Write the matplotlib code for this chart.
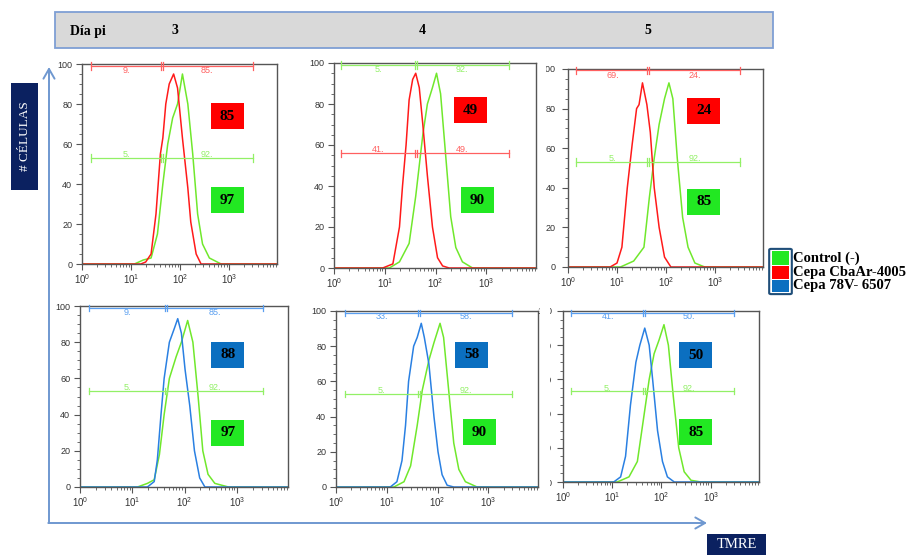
import matplotlib.pyplot as plt
from matplotlib.patches import Rectangle, FancyBboxPatch, FancyArrowPatch
from matplotlib.ticker import MultipleLocator, LogLocator, NullFormatter
import numpy as np

plt.rcParams['font.family'] = ['Liberation Sans', 'DejaVu Sans']
plt.rcParams['mathtext.default'] = 'regular'

# -----------------------------------------------
# data (x = log10 TMRE, y = # cells)
# -----------------------------------------------
days = ['3', '4', '5']

# top row: control (-) vs Cepa CbaAr-4005
cba_d3_ctrl_x = [0.0, 1.07, 1.25, 1.41, 1.54, 1.65, 1.75, 1.85, 1.95, 2.05, 2.16, 2.26, 2.36, 2.46, 2.60, 2.84, 4.0]
cba_d3_ctrl_y = [0, 0, 2, 3, 15, 40, 60, 73, 80, 95, 80, 55, 25, 10, 3, 0, 0]
cba_d3_x = [0.0, 1.20, 1.30, 1.41, 1.51, 1.60, 1.65, 1.71, 1.78, 1.87, 1.95, 2.05, 2.16, 2.22, 2.33, 2.43, 4.0]
cba_d3_y = [0, 0, 1, 5, 25, 55, 63, 80, 90, 95, 88, 63, 38, 21, 5, 0, 0]

cba_d4_ctrl_x = [0.0, 1.09, 1.29, 1.48, 1.61, 1.75, 1.84, 1.94, 2.02, 2.10, 2.20, 2.30, 2.40, 2.53, 2.73, 4.0]
cba_d4_ctrl_y = [0, 0, 3, 12, 35, 65, 80, 88, 95, 85, 55, 25, 10, 3, 0, 0]
cba_d4_x = [0.0, 0.96, 1.16, 1.29, 1.35, 1.42, 1.48, 1.55, 1.61, 1.68, 1.75, 1.84, 1.94, 2.04, 2.14, 2.27, 4.0]
cba_d4_y = [0, 0, 2, 20, 40, 60, 82, 92, 95, 88, 70, 45, 20, 5, 1, 0, 0]

cba_d5_ctrl_x = [0.0, 1.07, 1.34, 1.55, 1.66, 1.76, 1.86, 1.97, 2.06, 2.14, 2.23, 2.34, 2.45, 2.59, 2.79, 4.0]
cba_d5_ctrl_y = [0, 0, 3, 10, 35, 55, 72, 85, 93, 85, 55, 25, 10, 2, 0, 0]
cba_d5_x = [0.0, 0.86, 1.00, 1.10, 1.21, 1.31, 1.40, 1.45, 1.52, 1.61, 1.68, 1.76, 1.86, 1.97, 2.10, 4.0]
cba_d5_y = [0, 0, 2, 10, 40, 62, 80, 82, 93, 82, 68, 40, 20, 5, 0, 0]

# bottom row: control (-) vs Cepa 78V-6507
v78_d3_ctrl_x = [0.0, 1.10, 1.29, 1.42, 1.52, 1.61, 1.71, 1.84, 1.94, 2.06, 2.16, 2.26, 2.35, 2.45, 2.58, 2.84, 4.0]
v78_d3_ctrl_y = [0, 0, 2, 4, 18, 40, 60, 72, 80, 92, 80, 50, 20, 7, 2, 0, 0]
v78_d3_x = [0.0, 1.29, 1.42, 1.48, 1.55, 1.61, 1.71, 1.81, 1.87, 1.94, 2.01, 2.10, 2.19, 2.29, 2.39, 4.0]
v78_d3_y = [0, 0, 3, 15, 40, 60, 80, 88, 93, 85, 65, 45, 20, 5, 0, 0]

v78_d4_ctrl_x = [0.0, 1.14, 1.34, 1.47, 1.60, 1.70, 1.83, 1.93, 2.05, 2.12, 2.22, 2.32, 2.42, 2.55, 2.78, 4.0]
v78_d4_ctrl_y = [0, 0, 3, 12, 35, 55, 72, 82, 93, 85, 55, 25, 10, 3, 0, 0]
v78_d4_x = [0.0, 1.07, 1.20, 1.30, 1.37, 1.43, 1.53, 1.60, 1.68, 1.74, 1.83, 1.93, 2.01, 2.09, 2.19, 2.32, 4.0]
v78_d4_y = [0, 0, 3, 15, 35, 60, 80, 85, 93, 85, 70, 40, 20, 7, 1, 0, 0]

v78_d5_ctrl_x = [0.0, 1.10, 1.34, 1.51, 1.65, 1.75, 1.85, 1.95, 2.05, 2.14, 2.24, 2.35, 2.46, 2.60, 2.80, 4.0]
v78_d5_ctrl_y = [0, 0, 3, 12, 40, 60, 75, 83, 92, 80, 50, 20, 6, 1, 0, 0]
v78_d5_x = [0.0, 1.03, 1.17, 1.27, 1.37, 1.48, 1.56, 1.66, 1.75, 1.82, 1.92, 2.02, 2.12, 2.26, 4.0]
v78_d5_y = [0, 0, 3, 15, 45, 70, 80, 90, 80, 60, 30, 12, 3, 0, 0]

# gate percentages (left, right) and badge values
strain_gate_pct = [('9.', '85.'), ('41.', '49.'), ('69.', '24.'), ('9.', '85.'), ('33.', '58.'), ('41.', '50.')]
ctrl_gate_pct = ('5.', '92.')
strain_badge = [85, 49, 24, 88, 58, 50]
ctrl_badge = [97, 90, 85, 97, 90, 85]
legend_labels = ['Control (-)', 'Cepa CbaAr-4005', 'Cepa 78V- 6507']

# -----------------------------------------------
# styles / layout
# -----------------------------------------------
GREEN, RED, BLUE = '#70e82c', '#ff1a1a', '#2a80e2'
GATE = {'g': '#92f066', 'r': '#ff6060', 'b': '#5a9ff0'}
BADGE = {'g': '#22e822', 'r': '#ff0000', 'b': '#0b6fc0'}
NAVY = '#0b2160'
ARROW = '#6f98d0'

W, H = 909, 555
XMAX = 3.98

def fx(px):
    return px / W

def fy(py):
    return 1 - py / H

# (left, top, right, bottom) in px, strain color, curves, gate geometry, badge centres, label pad
panels = [
    dict(box=(82, 64, 277, 264), c='r', ctrl=(cba_d3_ctrl_x, cba_d3_ctrl_y), st=(cba_d3_x, cba_d3_y),
         gate=(0.18, 1.63, 3.48), sy=99, cy=53, sb=(2.96, 74), cb=(2.96, 32), pad=3),
    dict(box=(334, 63, 536, 268), c='r', ctrl=(cba_d4_ctrl_x, cba_d4_ctrl_y), st=(cba_d4_x, cba_d4_y),
         gate=(0.14, 1.61, 3.44), sy=56, cy=99, sb=(2.68, 77), cb=(2.82, 33), pad=3),
    dict(box=(568, 69, 763, 267), c='r', ctrl=(cba_d5_ctrl_x, cba_d5_ctrl_y), st=(cba_d5_x, cba_d5_y),
         gate=(0.17, 1.64, 3.52), sy=99.3, cy=53, sb=(2.77, 79), cb=(2.77, 33), pad=5),
    dict(box=(80, 306, 288, 487), c='b', ctrl=(v78_d3_ctrl_x, v78_d3_ctrl_y), st=(v78_d3_x, v78_d3_y),
         gate=(0.17, 1.65, 3.50), sy=99, cy=53, sb=(2.83, 73), cb=(2.83, 30), pad=3),
    dict(box=(336, 311, 538, 487), c='b', ctrl=(v78_d4_ctrl_x, v78_d4_ctrl_y), st=(v78_d4_x, v78_d4_y),
         gate=(0.17, 1.63, 3.47), sy=99, cy=53, sb=(2.67, 75), cb=(2.82, 31), pad=3),
    dict(box=(563, 311, 759, 482), c='b', ctrl=(v78_d5_ctrl_x, v78_d5_ctrl_y), st=(v78_d5_x, v78_d5_y),
         gate=(0.16, 1.65, 3.48), sy=99, cy=53, sb=(2.70, 74), cb=(2.70, 29), pad=4),
]

fig = plt.figure(figsize=(9.09, 5.55), dpi=100)


def draw_gate(ax, g, y, col, labels, below):
    x0, xd, x1 = g
    xs = np.power(10.0, [x0, x1])
    ax.plot(xs, [y, y], color=col, lw=0.9, clip_on=False, zorder=3)
    for xv in [x0, xd - 0.02, xd + 0.02, x1]:
        ax.plot([10 ** xv, 10 ** xv], [y - 1.8, y + 1.8], color=col, lw=0.9, clip_on=False, zorder=3)
    ty = y - 2.4 if below else y + 1.8
    ax.text(10 ** ((x0 + xd) / 2), ty, labels[0], color=col, fontsize=6.5, ha='center', va='center')
    ax.text(10 ** ((xd + x1) / 2), ty, labels[1], color=col, fontsize=6.5, ha='center', va='center')


def draw_badge(ax, centre, value, col, wpx, hpx):
    cx = centre[0] / XMAX
    cy = centre[1] / 100
    w, h = 33 / wpx, 26 / hpx
    ax.add_patch(Rectangle((cx - w / 2, cy - h / 2), w, h, transform=ax.transAxes,
                           fc=col, ec='none', zorder=4))
    ax.text(cx, cy, str(value), transform=ax.transAxes, ha='center', va='center',
            fontsize=11, fontweight='bold', family='Liberation Serif', zorder=5)


for i, p in enumerate(panels):
    l, t, r, b = p['box']
    ax = fig.add_axes([fx(l), fy(b), (r - l) / W, (b - t) / H])
    scol = RED if p['c'] == 'r' else BLUE

    ax.plot(np.power(10.0, p['ctrl'][0]), p['ctrl'][1], color=GREEN, lw=1.1, zorder=2)
    ax.plot(np.power(10.0, p['st'][0]), p['st'][1], color=scol, lw=1.1, zorder=2)

    ax.set_xscale('log')
    ax.set_xlim(1, 10 ** XMAX)
    ax.set_ylim(0, 100)

    draw_gate(ax, p['gate'], p['sy'], GATE[p['c']], strain_gate_pct[i], p['sy'] > 90)
    draw_gate(ax, p['gate'], p['cy'], GATE['g'], ctrl_gate_pct, p['cy'] > 90)

    draw_badge(ax, p['sb'], strain_badge[i], BADGE[p['c']], r - l, b - t)
    draw_badge(ax, p['cb'], ctrl_badge[i], BADGE['g'], r - l, b - t)

    ax.set_xticks([1, 10, 100, 1000])
    ax.set_xticklabels([r'$10^{%d}$' % k for k in range(4)])
    ax.xaxis.set_minor_locator(LogLocator(base=10, subs=np.arange(2, 10), numticks=10))
    ax.xaxis.set_minor_formatter(NullFormatter())
    ax.yaxis.set_major_locator(MultipleLocator(20))
    ax.yaxis.set_minor_locator(MultipleLocator(5))

    ax.tick_params(axis='both', which='major', direction='out', length=4, width=0.8,
                   colors='#555555', labelcolor='#333333', labelsize=6.5)
    ax.tick_params(axis='both', which='minor', direction='out', length=2, width=0.6, colors='#555555')
    ax.tick_params(axis='y', which='major', pad=p['pad'])
    ax.tick_params(axis='x', which='major', pad=2, labelsize=7)
    for s in ax.spines.values():
        s.set_color('#555555')
        s.set_linewidth(1.0)

# partly hidden tick labels of the right-hand panels
fig.add_artist(Rectangle((fx(539), fy(280)), fx(546) - fx(539), fy(58) - fy(280),
                         transform=fig.transFigure, fc='white', ec='none', zorder=10))
fig.add_artist(Rectangle((fx(539.5), fy(490)), fx(549.5) - fx(539.5), fy(300) - fy(490),
                         transform=fig.transFigure, fc='white', ec='none', zorder=10))

# header bar
fig.add_artist(Rectangle((fx(55), fy(48)), fx(773) - fx(55), fy(12) - fy(48),
                         transform=fig.transFigure, fc='#d9d9d9', ec='#7f9fd4', lw=1.3))
hdr = dict(fontsize=10, fontweight='bold', family='Liberation Serif', va='center')
fig.text(fx(70), fy(31), 'Día pi', ha='left', **hdr)
for d, xp in zip(days, [175, 422, 648]):
    fig.text(fx(xp), fy(31), d, ha='center', **hdr)

# axis arrows
arrow_kw = dict(arrowstyle='->,head_length=0.35,head_width=0.2', mutation_scale=20,
                lw=1.4, color=ARROW, shrinkA=0, shrinkB=0, transform=fig.transFigure)
fig.add_artist(FancyArrowPatch((fx(49), fy(523)), (fx(49), fy(67)), **arrow_kw))
fig.add_artist(FancyArrowPatch((fx(48.3), fy(523)), (fx(707), fy(523)), **arrow_kw))

# axis labels in navy boxes
fig.add_artist(Rectangle((fx(11), fy(190)), fx(38) - fx(11), fy(83) - fy(190),
                         transform=fig.transFigure, fc=NAVY, ec='none'))
fig.text(fx(24.5), fy(136.5), '# CÉLULAS', rotation=90, ha='center', va='center',
         color='white', fontsize=9.5, family='Liberation Serif')
fig.add_artist(Rectangle((fx(707), fy(555)), fx(766) - fx(707), fy(534) - fy(555),
                         transform=fig.transFigure, fc=NAVY, ec='none'))
fig.text(fx(736.5), fy(544.5), 'TMRE', ha='center', va='center',
         color='white', fontsize=10.5, family='Liberation Serif')

# legend
fig.add_artist(FancyBboxPatch((fx(771), fy(293)), fx(790) - fx(771), fy(250) - fy(293),
                              boxstyle='round,pad=0.002', transform=fig.transFigure,
                              fc='none', ec='#1f4e79', lw=1.5, zorder=3))
for lab, col, (yt, yb) in zip(legend_labels, [BADGE['g'], BADGE['r'], BADGE['b']],
                              [(251, 265), (266, 279), (280, 292)]):
    fig.add_artist(Rectangle((fx(772), fy(yb)), fx(789) - fx(772), fy(yt) - fy(yb),
                             transform=fig.transFigure, fc=col, ec='none', zorder=2))
    fig.text(fx(793), fy((yt + yb) / 2), lab, ha='left', va='center', fontsize=10.5,
             fontweight='bold', family='Liberation Serif')

plt.savefig('out.png', dpi=100)
